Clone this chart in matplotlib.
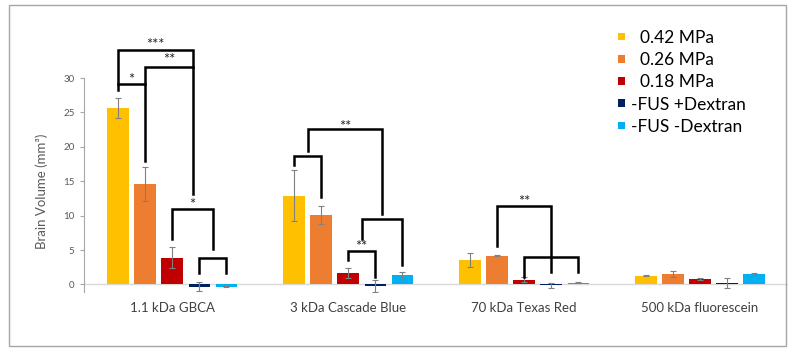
import numpy as np
import matplotlib.pyplot as plt
from matplotlib.patches import Rectangle

plt.rcParams['font.family'] = ['Lato', 'DejaVu Sans']

groups = ['1.1 kDa GBCA', '3 kDa Cascade Blue', '70 kDa Texas Red', '500 kDa fluorescein']
series = ['  0.42 MPa', '  0.26 MPa', '  0.18 MPa', '-FUS +Dextran', '-FUS -Dextran']
colors = ['#FFC000', '#ED7D31', '#C00000', '#002060', '#00B0F0']

v042 = [25.6, 12.9, 3.6, 1.26]
e042 = [1.45, 3.7, 1.0, 0.08]
v026 = [14.6, 10.1, 4.2, 1.5]
e026 = [2.5, 1.35, 0.07, 0.45]
v018 = [3.9, 1.65, 0.68, 0.78]
e018 = [1.55, 0.7, 0.35, 0.2]
vfd = [-0.3, -0.2, -0.15, 0.2]
efd = [0.6, 0.9, 0.4, 0.7]
vfn = [-0.35, 1.3, 0.25, 1.55]
efn = [0.08, 0.55, 0.08, 0.15]

vals = [v042, v026, v018, vfd, vfn]
errs = [e042, e026, e018, efd, efn]

pitch = 0.154
bw = 0.122

def pos(g, k):
    return g + (k - 2) * pitch

fig = plt.figure(figsize=(7.92, 3.5), dpi=100)
ax = fig.add_axes([0.1064, 0.1657, 0.8885, 0.6114])

x = np.arange(len(groups))
for k in range(5):
    ax.bar(x + (k - 2) * pitch, vals[k], bw, color=colors[k], label=series[k],
           yerr=errs[k], error_kw=dict(ecolor='#808080', elinewidth=0.8, capsize=2, capthick=0.8),
           zorder=2)

ax.axhline(0, color='#d9d9d9', lw=1, zorder=1)
ax.set_xlim(-0.5, 3.5)
ax.set_ylim(-1.1, 30)
ax.set_yticks(range(0, 31, 5))
ax.set_xticks(x)
ax.set_xticklabels(groups, fontsize=9.5, color='#404040')
ax.tick_params(axis='x', length=0, pad=7)
ax.tick_params(axis='y', length=3, width=0.8, color='#a6a6a6', labelsize=7, labelcolor='#595959', pad=4)
for s in ['top', 'right', 'bottom']:
    ax.spines[s].set_visible(False)
ax.spines['left'].set_color('#a6a6a6')
ax.spines['left'].set_linewidth(0.8)
ax.set_ylabel('Brain Volume (mm³)', fontsize=9.5, color='#595959')
ax.yaxis.set_label_coords(-0.0516, 0.47)

# significance brackets
p = lambda g, k: pos(g, k)
mD = (p(0, 3) + p(0, 4)) / 2
mC = (p(0, 2) + mD) / 2
mA2 = (p(1, 0) + p(1, 1)) / 2
mS2 = (p(1, 2) + p(1, 3)) / 2
mR2 = (mS2 + p(1, 4)) / 2

brackets = [
    [(p(0, 0), 28.2), (p(0, 0), 29.1), (p(0, 1), 29.1), (p(0, 1), 18.0)],
    [(p(0, 1), 29.1), (p(0, 1), 31.6), (mC, 31.6), (mC, 13.2)],
    [(p(0, 0), 29.1), (p(0, 0), 34.1), (mC, 34.1), (mC, 31.6)],
    [(p(0, 2), 6.55), (p(0, 2), 10.9), (mD, 10.9), (mD, 5.1)],
    [(p(0, 3), 1.6), (p(0, 3), 3.8), (p(0, 4), 3.8), (p(0, 4), 1.7)],
    [(p(1, 0), 17.3), (p(1, 0), 18.67), (p(1, 1), 18.67), (p(1, 1), 12.7)],
    [(p(1, 2), 3.5), (p(1, 2), 4.8), (p(1, 3), 4.8), (p(1, 3), 1.06)],
    [(mS2, 6.65), (mS2, 9.56), (p(1, 4), 9.56), (p(1, 4), 2.77)],
    [(mA2, 19.4), (mA2, 22.56), (mR2, 22.56), (mR2, 10.3)],
    [(p(2, 1), 5.57), (p(2, 1), 11.4), (p(2, 3), 11.4), (p(2, 3), 1.8)],
    [(p(2, 2), 1.1), (p(2, 2), 3.97), (p(2, 4), 3.97), (p(2, 4), 1.8)],
]
for b in brackets:
    bx, by = zip(*b)
    ax.plot(bx, by, color='black', lw=1.8, solid_joinstyle='miter', clip_on=False, zorder=3)

stars = [
    ((p(0, 0) + p(0, 1)) / 2, 30.4, '*'),
    ((p(0, 0) + mC) / 2, 35.5, '***'),
    ((p(0, 1) + mC) / 2, 33.3, '**'),
    (mC, 12.2, '*'),
    ((mA2 + mR2) / 2, 23.6, '**'),
    (mS2, 6.07, '**'),
    ((p(2, 1) + p(2, 3)) / 2, 12.7, '**'),
]
for sx, sy, st in stars:
    ax.text(sx, sy - 1.25, st, ha='center', va='baseline', fontsize=10.5, color='#262626', clip_on=False)

fig.legend(loc='upper left', bbox_to_anchor=(0.78, 0.915), frameon=False, fontsize=12.5,
           handlelength=0.4, handleheight=0.3, handletextpad=0.36, labelspacing=0.36,
           borderpad=0, borderaxespad=0)

fig.patches.append(Rectangle((9 / 792, 4 / 350), 777 / 792, 341 / 350, transform=fig.transFigure,
                             fill=False, edgecolor='#a6a6a6', lw=1))

fig.savefig('out.png', dpi=100)
